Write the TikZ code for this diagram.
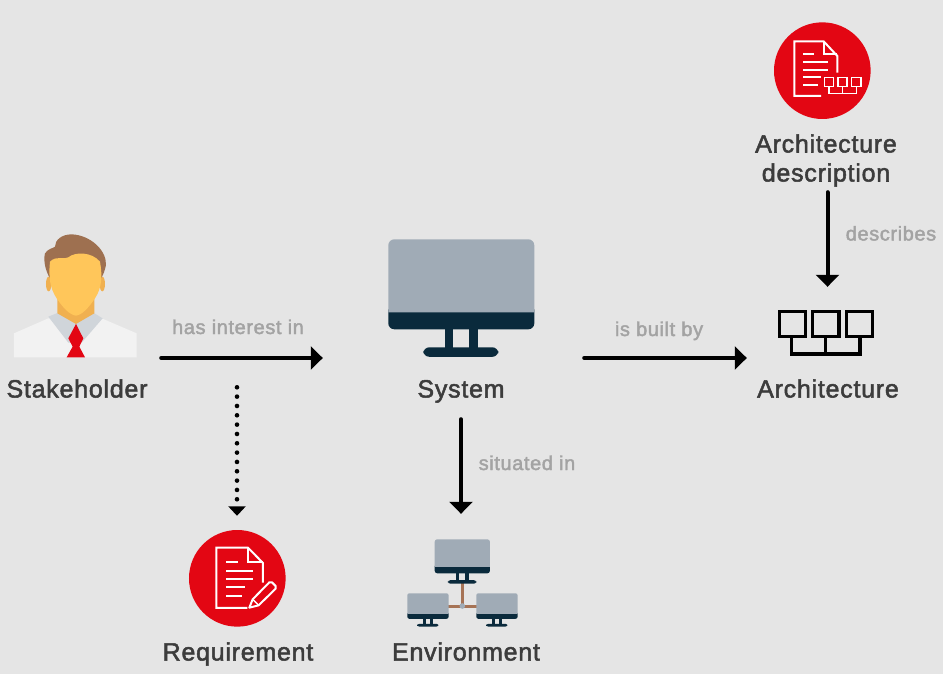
\documentclass[tikz,border=0pt]{standalone}
\usepackage{fontspec}
\setmainfont[LetterSpace=3,FakeBold=2]{Liberation Sans}
\usetikzlibrary{arrows.meta}
\definecolor{bgc}{HTML}{E5E5E5}
\definecolor{redc}{HTML}{E30613}
\definecolor{screenc}{HTML}{A0ABB6}
\definecolor{darkc}{HTML}{0A2A3C}
\definecolor{brownc}{HTML}{A67355}
\definecolor{hairc}{HTML}{9E7050}
\definecolor{facec}{HTML}{FFC65A}
\definecolor{neckc}{HTML}{F0B050}
\definecolor{collarc}{HTML}{D0D5DA}
\definecolor{shirtc}{HTML}{F2F2F2}
\definecolor{titlec}{HTML}{3C3C3C}
\definecolor{labelc}{HTML}{A3A3A3}
\tikzset{
  title/.style={font=\fontsize{25}{29}\selectfont, text=titlec, align=center, inner sep=0pt, anchor=base},
  rel/.style={font=\fontsize{20}{22}\selectfont, text=labelc, inner sep=0pt, anchor=base},
  flow/.style={line width=4pt, line cap=round, shorten <=2pt, draw=black, -{Triangle[width=23pt,length=12pt]}},
  dotflow/.style={line width=4.6pt, line cap=round, draw=black, dash pattern=on 0pt off 9.33pt, -{Triangle[width=17pt,length=9.5pt,sep=0pt]}},
  slot/.style={draw=none, fill=none, inner sep=0pt},
  wline/.style={draw=white, line width=2pt},
  wthin/.style={draw=white, line width=1.5pt},
}
% x y scale radius: x y = screen top-left
\newcommand{\drawmonitor}[4]{%
  \begin{scope}[shift={(#1,#2)},scale=#3]
    \fill[darkc] (0,70) [rounded corners=#4pt] -- (0,90) -- (146,90) [sharp corners] -- (146,70) -- cycle;
    \fill[screenc] (0,73) [rounded corners=#4pt] -- (0,0) -- (146,0) [sharp corners] -- (146,73) -- cycle;
    \fill[darkc] (56.5,89) rectangle (65,109);
    \fill[darkc] (81,89) rectangle (90,109);
    \fill[darkc,rounded corners=#4pt] (35,108) rectangle (110,117.5);
  \end{scope}}
\begin{document}
\begin{tikzpicture}[x=1pt,y=-1pt]
\useasboundingbox (0,0) rectangle (943,674);
\fill[bgc] (0,0) rectangle (943,674);

% layout slots used by connectors
\node[slot,minimum width=159pt,minimum height=90pt] (stakeslot) at (79.5,358) {};
\node[slot,minimum width=276pt,minimum height=118pt] (sysslot) at (461,358) {};
\node[slot,minimum width=161pt,minimum height=142pt] (archslot) at (827.5,358) {};
\node[slot,minimum width=130pt,minimum height=10pt] (descslot) at (827.5,185) {};
\node[slot,minimum width=120pt,minimum height=10pt] (envslot) at (461,519) {};
\node[slot,minimum width=100pt,minimum height=10pt] (reqslot) at (237,521) {};
\coordinate (dotstart) at (237,387.3);

% person
\begin{scope}[shift={(0,220)},x=0.3333pt,y=-0.3333pt]
  \fill[shirtc] (42,412) -- (42,340) -- (145,295) -- (305,295) -- (410,340) -- (410,412) -- cycle;
  \fill[collarc] (145,290) -- (175,278) -- (280,278) -- (308,295) -- (245,368) -- (205,368) -- cycle;
  \fill[neckc] (172,230) -- (283,230) -- (283,280) -- (228,312) -- (172,280) -- cycle;
  \fill[neckc] (146,192) ellipse (8 and 22);
  \fill[neckc] (307,192) ellipse (8 and 22);
  \fill[hairc] (150,175) .. controls (135,150) and (130,120) .. (135,100)
     .. controls (145,85) and (160,85) .. (165,80)
     .. controls (165,60) and (185,43) .. (215,43)
     .. controls (270,45) and (320,90) .. (318,135)
     .. controls (315,150) and (310,165) .. (303,175) -- cycle;
  \fill[facec] (150,125) .. controls (170,105) and (195,120) .. (205,112)
     .. controls (225,95) and (275,95) .. (300,125)
     .. controls (308,170) and (305,205) .. (285,235)
     .. controls (265,265) and (245,285) .. (228,287)
     .. controls (210,285) and (190,265) .. (170,235)
     .. controls (150,205) and (145,170) .. (150,125) -- cycle;
  \fill[redc] (228,312) -- (205,355) -- (218,380) -- (200,412) -- (255,412) -- (238,380) -- (250,355) -- cycle;
\end{scope}
\node[title] (stakeholder) at (77,397.5) {Stakeholder};

% system
\drawmonitor{388.3}{239.3}{1}{6}
\node[title] (system) at (461,397.5) {System};

% architecture description icon
\begin{scope}[shift={(750,10)},x=0.3333pt,y=-0.3333pt]
  \fill[redc] (217,182) circle (145);
  \draw[wline,join=miter] (213,258) -- (133,258) -- (133,94) -- (221,94) -- (262,138) -- (262,188);
  \draw[wline] (221,94) -- (221,132) -- (262,132);
  \draw[wline] (160,132) -- (192,132);
  \draw[wline] (160,156) -- (235,156);
  \draw[wline] (160,179) -- (235,179);
  \draw[wline] (160,201) -- (212,201);
  \draw[wline] (160,224) -- (204,224);
  \draw[wthin] (224,203) rectangle (250,230);
  \draw[wthin] (264,203) rectangle (291,230);
  \draw[wthin] (305,203) rectangle (333,230);
  \draw[wthin] (237,230) -- (237,251) -- (319,251) -- (319,230);
  \draw[wthin] (278,230) -- (278,251);
\end{scope}
\node[title] (archdesc) at (826,152.5) {Architecture};
\node[title] (archdesc2) at (826,181.5) {description};

% architecture icon
\begin{scope}[shift={(730,270)},x=0.3333pt,y=-0.3333pt]
  \draw[black,line width=3.3pt] (148,124) rectangle (226,200);
  \draw[black,line width=3.3pt] (248,124) rectangle (327,200);
  \draw[black,line width=3.3pt] (350,124) rectangle (428,200);
  \draw[black,line width=3.3pt] (184,200) -- (184,252) -- (390,252) -- (390,200);
  \draw[black,line width=3.3pt] (286,200) -- (286,252);
\end{scope}
\node[title] (architecture) at (828,397.5) {Architecture};

% requirement icon
\begin{scope}[shift={(170,520)},x=0.3333pt,y=-0.3333pt]
  \fill[redc] (202,175) circle (145);
  \draw[wline,join=miter] (232,264) -- (139,264) -- (139,83) -- (234,83) -- (279,129) -- (279,188);
  \draw[wline] (234,83) -- (234,127) -- (279,127);
  \draw[wline] (169,127) -- (203,127);
  \draw[wline] (169,152) -- (250,152);
  \draw[wline] (169,177) -- (250,177);
  \draw[wline] (169,202) -- (226,202);
  \draw[wline] (169,227) -- (216,227);
  \draw[wline,line join=round] (238,263) -- (248,238) -- (298,187) -- (306,187) -- (317,198) -- (317,206) -- (266,256) -- cycle;
  \draw[wthin] (248,238) -- (266,256);
\end{scope}
\node[title] (requirement) at (238,660.5) {Requirement};

% environment icon
\draw[brownc,line width=3pt] (462.3,580) -- (462.3,606);
\draw[brownc,line width=3pt] (448,606) -- (477,606);
\fill[screenc] (462.3,606) circle (2.8);
\drawmonitor{434.7}{539.3}{0.378}{2.5}
\drawmonitor{407.3}{593.3}{0.283}{2}
\drawmonitor{476.3}{593.3}{0.283}{2}
\node[title] (environment) at (466,660.5) {Environment};

% relation labels
\node[rel] (l1) at (238,334) {has interest in};
\node[rel] (l2) at (659,336) {is built by};
\node[rel] (l3) at (891,240.5) {describes};
\node[rel] (l4) at (527,470) {situated in};

% connectors
\draw[flow] (stakeslot.east) -- (sysslot.west);
\draw[flow] ([xshift=-17pt]sysslot.east) -- (archslot.west);
\draw[flow] (sysslot.south) -- (envslot.north);
\draw[flow] (descslot.south) -- (archslot.north);
\draw[dotflow] (dotstart) -- (reqslot.north);
\end{tikzpicture}
\end{document}
